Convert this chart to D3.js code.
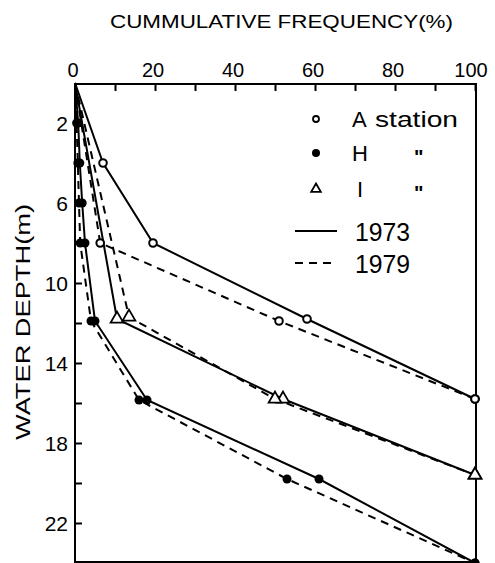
<!DOCTYPE html>
<html>
<head>
<meta charset="utf-8">
<script src="https://cdn.jsdelivr.net/npm/d3@7"></script>
<style>
  body { margin: 0; background: #fff; }
  svg { display: block; font-family: "Liberation Sans", Arial, sans-serif; }
</style>
</head>
<body>
<svg id="chart"></svg>
<script>
const width = 495;
const height = 563;
const margins = { top: 83, right: 20, bottom: 0, left: 75 };

// depth (m) / cumulative frequency (%) pairs
const aDepth1973 = [0, 4, 8, 11.8, 15.8];
const aFreq1973  = [0, 7, 19.5, 58, 100];
const aDepth1979 = [0, 8, 11.9, 15.8];
const aFreq1979  = [0, 6.3, 51, 100];

const hDepth1973 = [0, 2, 4, 6, 8, 11.9, 15.85, 19.8, 24];
const hFreq1973  = [0, 0.8, 1.2, 1.8, 2.5, 5, 18, 61, 100];
const hDepth1979 = [0, 2, 4, 6, 8, 11.9, 15.85, 19.8, 24];
const hFreq1979  = [0, 0.4, 0.7, 1, 1.3, 4, 16, 53, 100];

const iDepth1973 = [0, 11.8, 15.8, 19.6];
const iFreq1973  = [0, 10.5, 52, 100];
const iDepth1979 = [0, 11.7, 15.8, 19.6];
const iFreq1979  = [0, 13.5, 50, 100];

const xTicks = [0, 20, 40, 60, 80, 100];
const yTicks = [2, 6, 10, 14, 18, 22];

const series = [
  { st: "A", year: 1973, depth: aDepth1973, freq: aFreq1973 },
  { st: "A", year: 1979, depth: aDepth1979, freq: aFreq1979 },
  { st: "H", year: 1973, depth: hDepth1973, freq: hFreq1973 },
  { st: "H", year: 1979, depth: hDepth1979, freq: hFreq1979 },
  { st: "I", year: 1973, depth: iDepth1973, freq: iFreq1973 },
  { st: "I", year: 1979, depth: iDepth1979, freq: iFreq1979 }
];

const x = d3.scaleLinear().domain([0, 100]).range([margins.left, 475]);
const y = d3.scaleLinear().domain([0, 24]).range([margins.top, margins.top + 480]);

const svg = d3.select("#chart").attr("width", width).attr("height", height);

// frame
svg.append("rect")
  .attr("x", x(0)).attr("y", y(0) + 1)
  .attr("width", x(100) - x(0) + 1).attr("height", y(24) - y(0) - 2)
  .attr("fill", "none").attr("stroke", "#000").attr("stroke-width", 2);

// top axis
const xAxis = d3.axisTop(x).tickValues(d3.range(0, 101, 10)).tickSize(-7).tickFormat("");
svg.append("g").attr("transform", `translate(0,${y(0) + 1})`).call(xAxis)
  .call(g => g.select(".domain").remove())
  .selectAll("line").attr("stroke-width", 2);
svg.append("g").selectAll("text").data(xTicks).join("text")
  .attr("x", d => x(d) - (d === 100 ? 4 : 2)).attr("y", 77)
  .attr("text-anchor", "middle").attr("font-size", 20)
  .text(d => d);

// left axis
const yAxis = d3.axisLeft(y).tickValues(d3.range(2, 24, 2)).tickSize(-6).tickFormat("");
svg.append("g").attr("transform", `translate(${x(0) + 1},0)`).call(yAxis)
  .call(g => g.select(".domain").remove())
  .selectAll("line").attr("stroke-width", 2);
svg.append("g").selectAll("text").data(yTicks).join("text")
  .attr("x", 68).attr("y", d => y(d) + 8)
  .attr("text-anchor", "end").attr("font-size", 21)
  .text(d => d);

// axis titles
svg.append("text")
  .attr("x", 110).attr("y", 28)
  .attr("font-size", 18)
  .attr("textLength", 343).attr("lengthAdjust", "spacingAndGlyphs")
  .text("CUMMULATIVE FREQUENCY(%)");

svg.append("text")
  .attr("transform", "translate(30,440) rotate(-90)")
  .attr("font-size", 20)
  .attr("textLength", 236).attr("lengthAdjust", "spacingAndGlyphs")
  .text("WATER DEPTH(m)");

// lines
const line = d3.line().x(d => x(d[1])).y(d => y(d[0]));
svg.append("g").selectAll("path").data(series).join("path")
  .attr("d", s => line(d3.zip(s.depth, s.freq)))
  .attr("fill", "none").attr("stroke", "#000").attr("stroke-width", 2)
  .attr("stroke-dasharray", s => s.year === 1979 ? "8,6" : null);

// markers
function drawMarker(g, st) {
  if (st === "A") {
    g.append("circle").attr("r", 3.8).attr("fill", "#fff").attr("stroke", "#000").attr("stroke-width", 2);
  } else if (st === "H") {
    g.append("circle").attr("r", 4.5).attr("fill", "#000");
  } else {
    g.append("path").attr("d", d3.symbol(d3.symbolTriangle, 70)())
      .attr("fill", "#fff").attr("stroke", "#000").attr("stroke-width", 1.8);
  }
}

const pts = series.flatMap(s => s.depth.map((d, i) => ({ st: s.st, depth: d, freq: s.freq[i] })))
  .filter(p => p.depth > 0);
svg.append("g").selectAll("g").data(pts).join("g")
  .attr("transform", p => `translate(${x(p.freq)},${y(p.depth)})`)
  .each(function (p) { drawMarker(d3.select(this), p.st); });

// legend
const legend = svg.append("g");
const legRows = [
  { st: "A", label: "A", cy: 119 },
  { st: "H", label: "H", cy: 153 },
  { st: "I", label: "I", cy: 189 }
];
legRows.forEach(r => {
  const g = legend.append("g").attr("transform", `translate(316,${r.cy})`);
  if (r.st === "A") g.append("circle").attr("r", 3).attr("fill", "#fff").attr("stroke", "#000").attr("stroke-width", 1.8);
  else if (r.st === "H") g.append("circle").attr("r", 4).attr("fill", "#000");
  else g.append("path").attr("d", d3.symbol(d3.symbolTriangle, 40)()).attr("fill", "#fff").attr("stroke", "#000").attr("stroke-width", 1.8);
  legend.append("text").attr("x", r.st === "I" ? 357 : 352).attr("y", r.cy + 8)
    .attr("font-size", 22).text(r.label);
  if (r.st === "A") {
    legend.append("text").attr("x", 375).attr("y", r.cy + 8)
      .attr("font-size", 22).attr("textLength", 83).attr("lengthAdjust", "spacingAndGlyphs")
      .text("station");
  } else {
    legend.append("text").attr("x", 414).attr("y", r.cy + 11)
      .attr("font-size", 20).attr("font-weight", "bold").text("\"");
  }
});

const yearRows = [{ year: 1973, cy: 231 }, { year: 1979, cy: 263 }];
yearRows.forEach(r => {
  legend.append("line").attr("x1", 295).attr("x2", 337).attr("y1", r.cy).attr("y2", r.cy)
    .attr("stroke", "#000").attr("stroke-width", 2)
    .attr("stroke-dasharray", r.year === 1979 ? "8,6" : null);
  legend.append("text").attr("x", 355).attr("y", r.cy + 10)
    .attr("font-size", 26).attr("textLength", 55).attr("lengthAdjust", "spacingAndGlyphs")
    .text(r.year);
});
</script>
</body>
</html>
